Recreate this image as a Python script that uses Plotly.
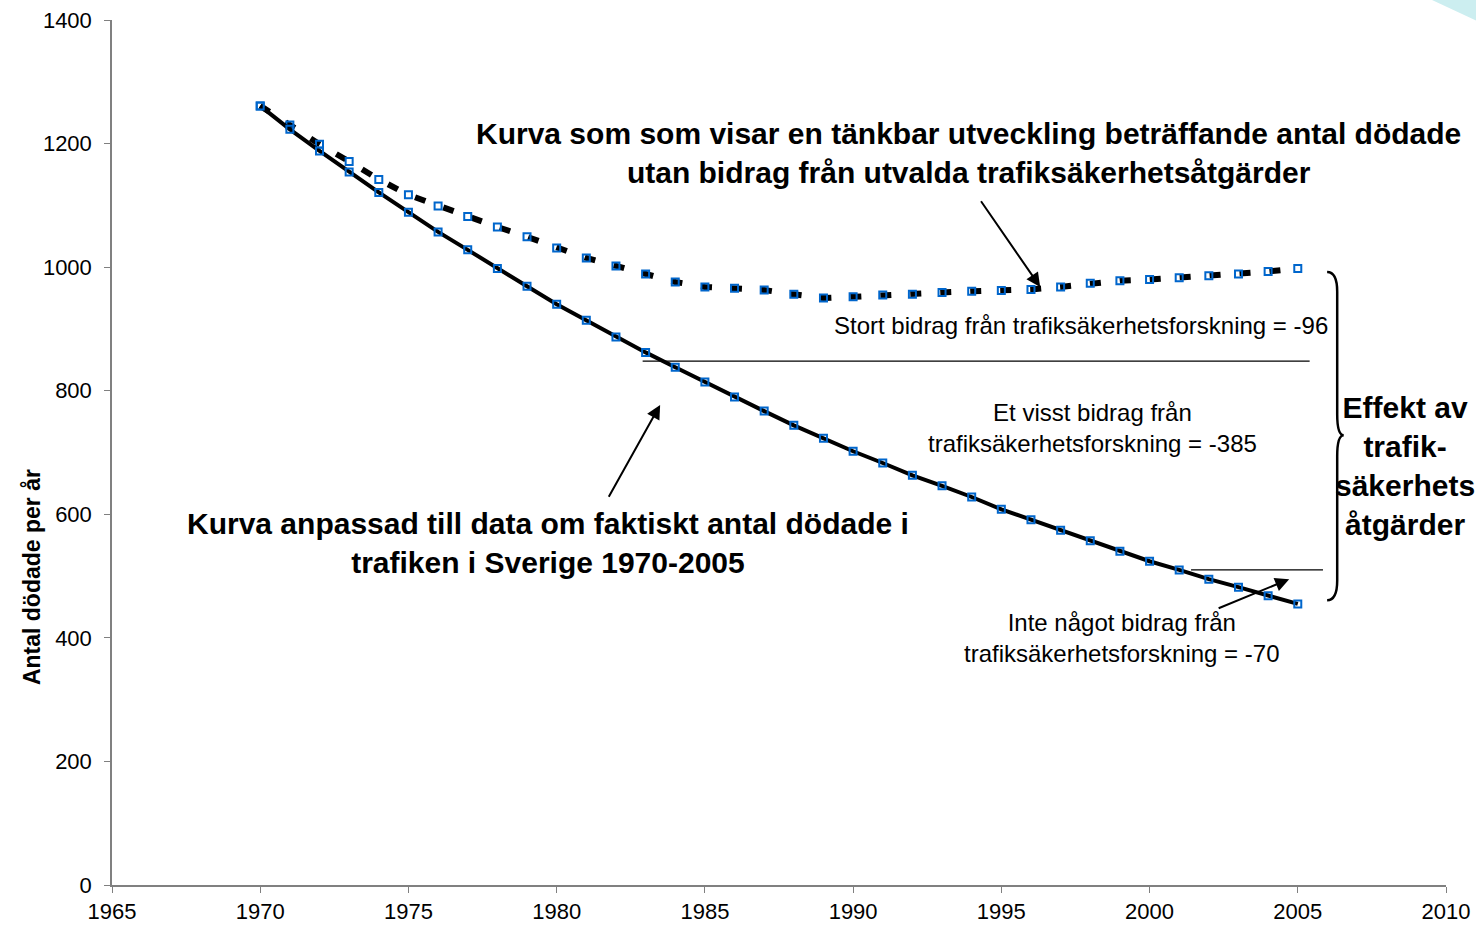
import plotly.graph_objects as go

years = list(range(1970, 2006))

# curve without selected road safety measures (dashed)
without_measures = [
    1261, 1230, 1199, 1171, 1142, 1117, 1099, 1082, 1065, 1049,
    1031, 1015, 1002, 989, 976, 968, 966, 963, 956, 950,
    952, 955, 956, 959, 961, 962, 964, 968, 974, 978,
    980, 983, 986, 989, 993, 998,
]

# curve fitted to actual fatalities (solid)
fitted_actual = [
    1261, 1223, 1188, 1154, 1121, 1089, 1057, 1028, 998, 969,
    940, 914, 887, 862, 838, 814, 790, 767, 744, 723,
    702, 683, 663, 646, 628, 608, 591, 574, 557, 540,
    524, 510, 495, 482, 468, 455,
]

divider_levels = [848, 510]

x_ticks = list(range(1965, 2011, 5))
y_ticks = list(range(0, 1401, 200))

FONT = "Liberation Sans, Arial, sans-serif"
BLUE = "#0066CC"

fig = go.Figure()

fig.add_trace(
    go.Scatter(
        x=years,
        y=without_measures,
        mode="lines+markers",
        line=dict(color="black", width=6, dash="11px,19px"),
        marker=dict(symbol="square-open", size=7, color=BLUE, line=dict(width=2, color=BLUE)),
        hoverinfo="skip",
    )
)

fig.add_trace(
    go.Scatter(
        x=years,
        y=fitted_actual,
        mode="lines+markers",
        line=dict(color="black", width=4),
        marker=dict(symbol="square-open", size=7, color=BLUE, line=dict(width=2, color=BLUE)),
        hoverinfo="skip",
    )
)

# divider lines between the contributions
fig.add_shape(type="line", x0=1982.9, x1=2005.4, y0=divider_levels[0], y1=divider_levels[0],
              line=dict(color="black", width=1.3))
fig.add_shape(type="line", x0=2001.4, x1=2005.85, y0=divider_levels[1], y1=divider_levels[1],
              line=dict(color="black", width=1.3))

# curly brace on the right
brace = (
    "M 2005.99,992 Q 2006.33,992 2006.33,960 L 2006.33,762 "
    "Q 2006.33,728 2006.55,728 Q 2006.33,728 2006.33,694 "
    "L 2006.33,493 Q 2006.33,461 2005.99,461"
)
fig.add_shape(type="path", path=brace, line=dict(color="black", width=2.5))

# little cyan corner in the top right
fig.add_shape(
    type="path", xref="paper", yref="paper",
    path="M 0.9895,1.0231 L 1.03,1.0231 L 1.03,0.9942 Z",
    fillcolor="#CCEEF0", line=dict(width=0),
)

bold = dict(family=FONT, size=30, color="black")
regular = dict(family=FONT, size=24, color="black")

fig.add_annotation(
    x=1993.88, y=1184, showarrow=False, font=bold,
    text="<b>Kurva som som visar en tänkbar utveckling beträffande antal dödade<br>"
         "utan bidrag från utvalda trafiksäkerhetsåtgärder</b>",
)
fig.add_annotation(
    x=1979.71, y=553, showarrow=False, font=bold,
    text="<b>Kurva anpassad till data om faktiskt antal dödade i<br>trafiken i Sverige 1970-2005</b>",
)
fig.add_annotation(
    x=1997.68, y=905, showarrow=False, font=regular,
    text="Stort bidrag från trafiksäkerhetsforskning = -96",
)
fig.add_annotation(
    x=1998.06, y=739, showarrow=False, font=regular,
    text="Et visst bidrag från<br>trafiksäkerhetsforskning = -385",
)
fig.add_annotation(
    x=1999.06, y=400, showarrow=False, font=regular,
    text="Inte något bidrag från<br>trafiksäkerhetsforskning = -70",
)
fig.add_annotation(
    x=2008.62, y=678, showarrow=False, font=bold,
    text="<b>Effekt av<br>trafik-<br>säkerhets<br>åtgärder</b>",
)

# arrows
arrow = dict(showarrow=True, arrowhead=2, arrowsize=1.4, arrowwidth=2, arrowcolor="black",
             axref="x", ayref="y", text="")
fig.add_annotation(x=1996.31, y=968, ax=1994.28, ay=1109, **arrow)
fig.add_annotation(x=1983.49, y=777, ax=1981.73, ay=626, **arrow)
fig.add_annotation(x=2004.71, y=495, ax=2002.28, ay=447, **arrow)

# y axis title placed as annotation (it sits below the axis middle)
fig.add_annotation(
    xref="paper", yref="paper", x=-0.0712, y=0.356, showarrow=False, textangle=-90,
    text="<b>Antal dödade per år</b>", font=dict(family=FONT, size=23, color="black"),
)

axis_common = dict(
    showgrid=False, zeroline=False, showline=True, linecolor="#808080", linewidth=1.5,
    ticks="outside", ticklen=6, tickcolor="#808080", tickwidth=1.3,
    tickfont=dict(family=FONT, size=22, color="black"), automargin=False,
    ticklabeloverflow="allow",
)

fig.update_xaxes(range=[1965, 2010], tickvals=x_ticks, **axis_common)
fig.update_yaxes(range=[0, 1400], tickvals=y_ticks, ticklabelstandoff=8, **axis_common)

fig.update_layout(
    width=1476,
    height=930,
    showlegend=False,
    plot_bgcolor="white",
    paper_bgcolor="white",
    margin=dict(l=112, r=30, t=20, b=45, autoexpand=False),
    font=dict(family=FONT),
)

# drop the browser's default 8px body margin so the figure fills the window exactly
fig.write_html(
    "out.html",
    config={"displayModeBar": False},
    post_script="document.body.style.margin='0';",
)
